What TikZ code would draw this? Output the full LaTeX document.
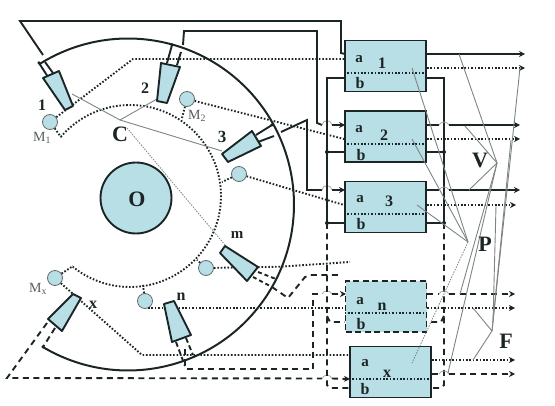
\documentclass[tikz,border=0pt]{standalone}
\usepackage{fontspec}
\setmainfont{Liberation Serif}
\usetikzlibrary{arrows.meta}
\definecolor{tealfill}{HTML}{B7DFE5}
\definecolor{ink}{HTML}{1C2526}
\definecolor{thing}{HTML}{7E8485}
\tikzset{
  solidl/.style={draw=ink,line width=1.9pt},
  dotl/.style={draw=ink,line width=1.9pt,dash pattern=on 1.6pt off 1.8pt},
  dashl/.style={draw=ink,line width=1.9pt,dash pattern=on 6pt off 4.5pt},
  thinl/.style={draw=thing,line width=0.9pt},
  thindot/.style={draw=thing,line width=0.8pt,dash pattern=on 1.5pt off 1.2pt},
  bumpl/.style={draw=thing!70,line width=0.8pt},
  tip/.style={-{Stealth[length=6pt,width=6pt]}},
  blockbox/.style={draw=ink,line width=1.9pt,fill=tealfill,minimum width=81pt,minimum height=51pt,inner sep=0pt},
  blockdash/.style={blockbox,draw=ink,dash pattern=on 6pt off 3.5pt},
  meas/.style={circle,draw=thing!80!black,line width=0.8pt,fill=tealfill,minimum size=15pt,inner sep=0pt},
  sensor/.style={draw=ink,line width=1.9pt,fill=tealfill,line join=round},
  lab/.style={font=\bfseries\fontsize{15}{15}\selectfont,text=ink,inner sep=0pt},
  blab/.style={font=\bfseries\fontsize{16}{16}\selectfont,text=ink,inner sep=0pt},
  mlab/.style={font=\fontsize{14}{14}\selectfont,text=ink!75,inner sep=0pt},
  biglab/.style={font=\bfseries\fontsize{22}{22}\selectfont,text=ink,inner sep=0pt},
  jdot/.style={circle,fill=ink,inner sep=0pt,minimum size=4pt},
}
\begin{document}
\begin{tikzpicture}[x=1pt,y=-1pt]
\useasboundingbox (0,0) rectangle (555,406);

% blocks and measurement points
\node[blockbox] (b1) at (385.5,66) {};
\node[blockbox] (b2) at (385.5,136.5) {};
\node[blockbox] (b3) at (385.5,207) {};
\node[blockdash] (bn) at (386,306.5) {};
\node[blockbox] (bx) at (390.5,372) {};
\node[meas] (m1) at (50,122) {};
\node[meas] (m2) at (187,99) {};
\node[meas] (m3) at (239,174) {};
\node[meas] (mm) at (206,268) {};
\node[meas] (mn) at (145,301) {};
\node[meas] (mx) at (55,278) {};
\node[draw=ink,line width=1.9pt,fill=tealfill,circle,minimum size=71pt,inner sep=0pt] (disc) at (136,198) {};

% arcs
\draw[line width=2pt,draw=ink,domain=-122:120.6,samples=90,smooth] plot ({128+166*cos(\x)},{204.5+166*sin(\x)});
\draw[dotl,domain=-139.5:129,samples=90,smooth] plot ({130+91*cos(\x)},{196+91*sin(\x)});

% named free ends
\coordinate (tl) at (20,21);
\coordinate (tr) at (341,21);
\coordinate (s1top) at (43,55);
\coordinate (a1in) at (345,54);
\coordinate (a2in) at (345,125);
\coordinate (a3in) at (345,190);
\coordinate (ainN) at (346,294);
\coordinate (ainX) at (350,379);

% sensor 1 + 2 + 3 signal wiring
\draw[solidl] (s1top) -- (tl) -- (tr) -- (341,53) -- (a1in);
\draw[solidl] (183,45) -- (184,31) -- (317,31) -- (317,123) -- (322,125);
\draw[bumpl] (322,125) .. controls (324,120) and (326,120) .. (327,123) .. controls (328,120) and (330,120) .. (332,125);
\draw[solidl,tip] (332,125) -- (a2in);
\draw[solidl] (281,132) -- (307,120) -- (307,190) -- (322,190);
\draw[bumpl] (322,190) .. controls (324,185) and (326,185) .. (327,188) .. controls (328,185) and (330,185) .. (332,190);
\draw[solidl,tip] (332,190) -- (a3in);

% dashed wiring of sensors m, n, x
\draw[dashl] (272,287) -- (288,298) -- (305,277) -- (312,275) -- (342,275);
\draw[dashl] (185,349) -- (185,366) -- (187,369) -- (313,369) -- (313,294) -- (322,294);
\draw[bumpl] (322,294) .. controls (324,290) and (330,290) .. (332,294);
\draw[dashl,tip] (332,294) -- (ainN);
\draw[dashl] (47,323) -- (7,378) -- (322,378.5);
\draw[bumpl] (322,378.5) .. controls (324,374) and (330,374) .. (332,378.5);
\draw[dashl,tip] (332,378.5) -- (ainX);

% dotted signal wiring
\draw[dotl] (m1) -- (133,59) -- (b1.west|-0,59);
\draw[dotl] (m1) -- (61,137);
\draw[dotl] (m2) -- (b2.west|-0,139);
\draw[dotl] (m2) -- (182,118);
\draw[dotl] (m3) -- (b3.west|-0,205);
\draw[dotl] (m3) -- (222,182);
\draw[dotl] (mm) -- (280,266.7) -- (350,262);
\draw[dotl] (mm) -- (197,260);
\draw[dotl] (148,308) -- (bn.west|-0,308);
\draw[dotl] (mn) -- (143,285);
\draw[dotl] (mx) -- (73,266);
\draw[dotl] (mx) -- (142,355) -- (bx.west|-0,355);

% b buses
\draw[solidl] (b1.west|-0,78) -- (327,78) -- (327,222);
\draw[solidl] (b2.west|-0,152) -- (327,152);
\draw[solidl] (b3.west|-0,223) -- (327,223);
\draw[dashl] (327,223) -- (327,385) -- (330,388) -- (bx.west|-0,388);
\draw[dashl] (327,316) -- (330,322) -- (bn.west|-0,322);
\draw[solidl] (b1.east|-0,78) -- (444,78) -- (444,222);
\draw[solidl] (b2.east|-0,152) -- (444,152);
\draw[solidl] (b3.east|-0,223) -- (444,223);
\draw[dashl] (444,223) -- (444,385) -- (441,388) -- (bx.east|-0,388);
\draw[dashl] (444,316) -- (441,322) -- (bn.east|-0,322);
\node[jdot] (j1) at (327,152) {};
\node[jdot] (j2) at (327,223) {};
\node[jdot] (j3) at (444,152) {};
\node[jdot] (j4) at (444,223) {};

% outputs
\coordinate (o1s) at (525,54);
\coordinate (o1d) at (525,68);
\coordinate (o2s) at (520,125);
\coordinate (o2d) at (520,139);
\coordinate (o3s) at (520,190);
\coordinate (o3d) at (516,205);
\coordinate (ons) at (515,294);
\coordinate (ond) at (515,308);
\coordinate (oxd) at (515,360);
\coordinate (oxs) at (515,374);
\draw[solidl,tip] (b1.east|-0,54) -- (o1s);
\draw[dotl,tip] (b1.east|-0,68) -- (o1d);
\draw[solidl] (b2.east|-0,125) -- (439,125);
\draw[bumpl] (439,125) .. controls (441,121) and (447,121) .. (449,125);
\draw[solidl,tip] (449,125) -- (o2s);
\draw[dotl,tip] (b2.east|-0,139) -- (o2d);
\draw[solidl] (b3.east|-0,190) -- (439,190);
\draw[bumpl] (439,190) .. controls (441,186) and (447,186) .. (449,190);
\draw[solidl,tip] (449,190) -- (o3s);
\draw[dotl,tip] (b3.east|-0,205) -- (o3d);
\draw[dashl] (bn.east|-0,294) -- (439,294);
\draw[bumpl] (439,294) .. controls (441,290) and (447,290) .. (449,294);
\draw[dashl,tip] (449,294) -- (ons);
\draw[dotl,tip] (bn.east|-0,308) -- (ond);
\draw[dotl,tip] (bx.east|-0,360) -- (oxd);
\draw[dashl] (bx.east|-0,374) -- (439,374);
\draw[bumpl] (439,374) .. controls (441,370) and (447,370) .. (449,374);
\draw[dashl,tip] (449,374) -- (oxs);

% dotted lines across blocks
\draw[dotl] (b1.west|-0,73) -- (b1.east|-0,73);
\draw[dotl] (b2.west|-0,144) -- (b2.east|-0,144);
\draw[dotl] (b3.west|-0,214) -- (b3.east|-0,214);
\draw[dotl] (bn.west|-0,313) -- (bn.east|-0,313);
\draw[dotl] (bx.west|-0,379) -- (bx.east|-0,379);

% thin leaders
\coordinate (cpt) at (120,120);
\draw[thinl] (72,94) -- (cpt) -- (157,99);
\draw[thinl] (cpt) -- (222,151);
\draw[thindot] (127,128) -- (225,245);
\coordinate (vapex) at (497,163);
\foreach \p in {(459,54),(465,126),(469,190),(460,294),(448,373)} \draw[thinl] (vapex) -- \p;
\coordinate (papex) at (468,242);
\foreach \p in {(412,68),(412,139),(417,205)} \draw[thinl] (papex) -- \p;
\draw[thindot] (papex) -- (412,363);
\coordinate (fapex) at (492,331);
\foreach \p in {(473,308),(473,360),(520,68),(511,140)} \draw[thinl] (fapex) -- \p;
\draw[thinl] (493,322) -- (496,206);

% sensors
\draw[solidl] (39,63) -- (48,77) (45,62) -- (53,73);
\draw[solidl] (172,45) -- (167,63) (181,52) -- (177,65);
\draw[solidl] (272,125) -- (256,135) (274,136) -- (258,142);
\draw[dashl,dash pattern=on 4pt off 3pt] (258,272) -- (276,279) (253,277) -- (272,287);
\draw[dashl,dash pattern=on 5pt off 3pt] (176,342) -- (185,366) (186,338) -- (193,355);
\draw[dashl,dash pattern=on 6pt off 4pt] (55,328) -- (43,347);
\draw[sensor] (43,78) -- (59,71) -- (73,106) -- (65,110) -- cycle;
\draw[sensor] (161,63) -- (180,67) -- (167,103) -- (157,101) -- cycle;
\draw[sensor] (222,154) -- (252,131) -- (261,146) -- (228,162) -- cycle;
\draw[sensor] (220,253) -- (225,246) -- (258,267) -- (247,281) -- cycle;
\draw[sensor] (164,304) -- (174,301) -- (191,335) -- (172,342) -- cycle;
\draw[sensor] (73,294) -- (81,298) -- (62,331) -- (48,319) -- cycle;
\node[jdot,minimum size=3.5pt] (j5) at (39,63) {};
\node[jdot,minimum size=3.5pt] (j6) at (172,45) {};
\node[jdot,minimum size=3.5pt] (j7) at (272,125) {};
\node[jdot,minimum size=3.5pt] (j8) at (43,347) {};

% labels
\node[biglab] (lo) at (137,199) {O};
\node[biglab] (lc) at (120,134) {C};
\node[biglab] (lv) at (480,160) {V};
\node[biglab] (lp) at (485,244) {P};
\node[biglab] (lf) at (506,341) {F};
\node[blab] (s1) at (42,105) {1};
\node[blab] (s2) at (145,88) {2};
\node[blab,font=\bfseries\fontsize{17}{17}\selectfont] (s3) at (222,137) {3};
\node[lab] (sm) at (237,235) {m};
\node[blab] (sn) at (181,297) {n};
\node[blab] (sx) at (93,305) {x};
\node[mlab] (t1) at (42,138) {M\textsubscript{1}};
\node[mlab] (t2) at (197,115.5) {M\textsubscript{2}};
\node[mlab] (t3) at (38,289) {M\textsubscript{x}};
\node[lab] (a1) at (359,59) {a};
\node[blab] (n1) at (382,63) {1};
\node[blab] (c1) at (360,83) {b};
\node[lab] (a2) at (359,129) {a};
\node[blab] (n2) at (384,135) {2};
\node[blab] (c2) at (361,155) {b};
\node[lab] (a3) at (360,199) {a};
\node[blab] (n3) at (389,201) {3};
\node[blab] (c3) at (361,224) {b};
\node[lab] (a4) at (360,301) {a};
\node[blab] (n4) at (382,307) {n};
\node[blab] (c4) at (361,324) {b};
\node[lab] (a5) at (365,363) {a};
\node[blab] (n5) at (387,374) {x};
\node[blab] (c5) at (365,389) {b};
\end{tikzpicture}
\end{document}
